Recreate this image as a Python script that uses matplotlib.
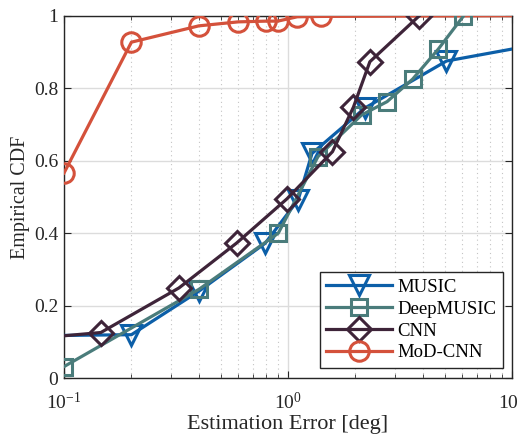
import matplotlib
matplotlib.use("Agg")
import matplotlib.pyplot as plt
import numpy as np
from matplotlib.ticker import FixedLocator, FuncFormatter, LogLocator, NullFormatter

plt.rcParams['font.family'] = ['Liberation Serif', 'DejaVu Serif']
plt.rcParams['mathtext.fontset'] = 'custom'
plt.rcParams['mathtext.rm'] = 'Liberation Serif'
plt.rcParams['mathtext.it'] = 'Liberation Serif:italic'

# Data
music_x = [0.1, 0.2, 0.4, 0.79, 1.11, 1.28, 2.2, 5.1, 10.0]
music_y = [0.118, 0.12, 0.24, 0.372, 0.492, 0.62, 0.745, 0.875, 0.908]
music_mk = [1, 2, 3, 4, 5, 6, 7]

deep_x = [0.1, 0.4, 0.905, 1.36, 2.13, 2.77, 3.6, 4.69, 6.07]
deep_y = [0.032, 0.245, 0.40, 0.611, 0.726, 0.763, 0.825, 0.908, 0.999]
deep_mk = [0, 1, 2, 3, 4, 5, 6, 7, 8]

cnn_x = [0.1, 0.146, 0.326, 0.59, 0.99, 1.58, 1.96, 2.32, 3.86]
cnn_y = [0.117, 0.126, 0.249, 0.373, 0.495, 0.625, 0.748, 0.873, 1.0]
cnn_mk = [1, 2, 3, 4, 5, 6, 7, 8]

mod_x = [0.1, 0.2, 0.4, 0.6, 0.8, 0.9, 1.1, 1.4, 10.0]
mod_y = [0.566, 0.927, 0.972, 0.983, 0.985, 0.985, 0.997, 0.998, 1.0]
mod_mk = [0, 1, 2, 3, 4, 5, 6, 7]

fig = plt.figure(figsize=(5.19, 4.37), dpi=100)
ax = fig.add_axes([64/519, (437-378.2)/437, (512-64)/519, (378.2-15.7)/437])

lw = 2.3
mew = 2.2
c_music = '#0c5fa8'
c_deep = '#4a7c7b'
c_cnn = '#3e2439'
c_mod = '#d4513b'

ax.plot(mod_x, mod_y, color=c_mod, lw=lw, marker='o', ms=14, mew=mew, mfc='none',
        markevery=mod_mk, label='MoD-CNN', zorder=3)
ax.plot(music_x, music_y, color=c_music, lw=lw, marker='v', ms=14, mew=mew, mfc='none',
        markevery=music_mk, label='MUSIC', zorder=4)
ax.plot(deep_x, deep_y, color=c_deep, lw=lw, marker='s', ms=12, mew=mew, mfc='none',
        markevery=deep_mk, label='DeepMUSIC', zorder=5)
ax.plot(cnn_x, cnn_y, color=c_cnn, lw=lw, marker='D', ms=12, mew=mew, mfc='none',
        markevery=cnn_mk, label='CNN', zorder=6)

ax.set_xscale('log')
ax.set_xlim(0.1, 10)
ax.set_ylim(0, 1)
ax.yaxis.set_major_locator(FixedLocator([0, 0.2, 0.4, 0.6, 0.8, 1.0]))
ax.yaxis.set_major_formatter(FuncFormatter(lambda v, p: ('%g' % round(v, 1))))
ax.xaxis.set_major_locator(FixedLocator([0.1, 1, 10]))
ax.xaxis.set_major_formatter(FuncFormatter(lambda v, p: r'$\mathregular{10^{%d}}$' % int(round(np.log10(v)))))
ax.xaxis.set_minor_locator(LogLocator(base=10, subs=np.arange(2, 10)))
ax.xaxis.set_minor_formatter(NullFormatter())

ax.grid(True, which='major', color='#dcdcdc', lw=1.0, ls='-', zorder=0)
ax.grid(True, which='minor', axis='x', color='#c4c4c4', lw=0.8, ls=(0, (1, 3)), zorder=0)
ax.set_axisbelow(True)

for s in ax.spines.values():
    s.set_color('#262626')
    s.set_linewidth(1.0)
ax.tick_params(which='both', direction='in', top=True, right=True, colors='#262626',
               labelsize=14, labelcolor='#262626')
ax.tick_params(which='major', length=5)
ax.tick_params(which='minor', length=3)
ax.tick_params(axis='x', which='major', pad=10)
ax.tick_params(axis='y', which='major', pad=4)

ax.set_xlabel('Estimation Error [deg]', fontsize=16, color='#262626', labelpad=1)
ax.set_ylabel('Empirical CDF', fontsize=14.5, color='#262626', labelpad=3)

h, l = ax.get_legend_handles_labels()
order = [1, 2, 3, 0]
leg = ax.legend([h[i] for i in order], [l[i] for i in order], loc='lower right',
                bbox_to_anchor=(503/519, (437-368)/437), bbox_transform=fig.transFigure,
                fontsize=13.5, handlelength=3.5, handletextpad=0.3, labelspacing=0.25,
                borderpad=0.35, borderaxespad=0, fancybox=False, framealpha=1, edgecolor='#262626')
leg.get_frame().set_linewidth(1.0)

fig.savefig('out.png', dpi=100)
